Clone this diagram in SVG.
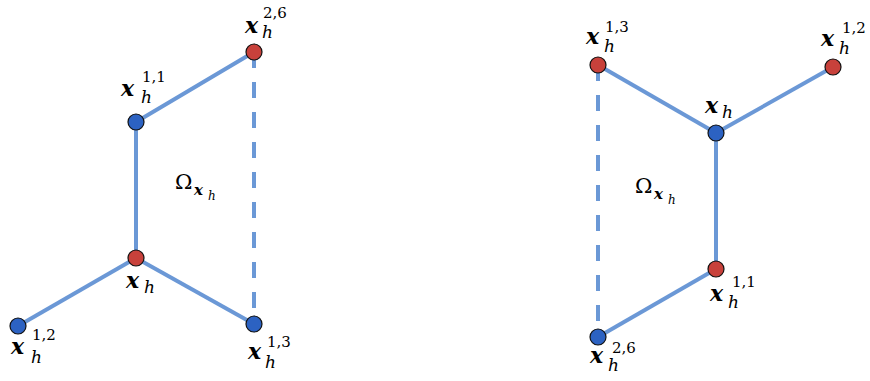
<svg xmlns="http://www.w3.org/2000/svg" width="870" height="381" viewBox="0 0 870 381">
<style>
.e{stroke:#6b98d6;stroke-width:4;fill:none}
.d{stroke-dasharray:16 14}
.r{fill:#c8413b;stroke:#111;stroke-width:1.2}
.b{fill:#2c62c2;stroke:#111;stroke-width:1.2}
.t{font-family:'DejaVu Serif',serif;fill:#000}
.x{font-weight:bold;font-style:italic;font-size:22px}
.h{font-style:italic;font-size:17px}
.s{font-size:15px}
.o{font-size:21px}
.ox{font-weight:bold;font-style:italic;font-size:15px}
.oh{font-style:italic;font-size:12px}
</style>
<g id="connectors">
<line class="e" x1="254" y1="52" x2="136" y2="122"/>
<line class="e" x1="136" y1="122" x2="136" y2="258"/>
<line class="e" x1="136" y1="258" x2="18" y2="326"/>
<line class="e" x1="136" y1="258" x2="254" y2="324"/>
<line class="e d" x1="254" y1="52" x2="254" y2="324"/>
<line class="e" x1="598" y1="65" x2="716" y2="133"/>
<line class="e" x1="833" y1="67" x2="716" y2="133"/>
<line class="e" x1="716" y1="133" x2="716" y2="269"/>
<line class="e" x1="716" y1="269" x2="598" y2="337"/>
<line class="e d" x1="598" y1="65" x2="598" y2="337"/>
</g>
<g id="left-x26"><circle class="r" cx="254" cy="52" r="8"/>
<text class="t"><tspan class="x" x="245" y="33">x</tspan><tspan class="h" x="262" y="38">h</tspan><tspan class="s" x="263" y="18">2,6</tspan></text></g>
<g id="left-x11"><circle class="b" cx="136" cy="122" r="8"/>
<text class="t"><tspan class="x" x="121" y="96">x</tspan><tspan class="h" x="141" y="103">h</tspan><tspan class="s" x="142" y="82">1,1</tspan></text></g>
<g id="left-xh"><circle class="r" cx="136" cy="258" r="8"/>
<text class="t"><tspan class="x" x="126" y="288">x</tspan><tspan class="h" x="144" y="293">h</tspan></text></g>
<g id="left-x12"><circle class="b" cx="18" cy="326" r="8"/>
<text class="t"><tspan class="x" x="11" y="354">x</tspan><tspan class="h" x="31" y="363">h</tspan><tspan class="s" x="32" y="340">1,2</tspan></text></g>
<g id="left-x13"><circle class="b" cx="254" cy="324" r="8"/>
<text class="t"><tspan class="x" x="248" y="359">x</tspan><tspan class="h" x="265" y="368">h</tspan><tspan class="s" x="267" y="347">1,3</tspan></text></g>
<g id="left-omega"><text class="t"><tspan class="o" x="175" y="189">Ω</tspan><tspan class="ox" x="194" y="195">x</tspan><tspan class="oh" x="208" y="200">h</tspan></text></g>
<g id="right-x13"><circle class="r" cx="598" cy="65" r="8"/>
<text class="t"><tspan class="x" x="586" y="44">x</tspan><tspan class="h" x="604" y="52">h</tspan><tspan class="s" x="605" y="32">1,3</tspan></text></g>
<g id="right-x12"><circle class="r" cx="833" cy="67" r="8"/>
<text class="t"><tspan class="x" x="821" y="46">x</tspan><tspan class="h" x="839" y="54">h</tspan><tspan class="s" x="842" y="33">1,2</tspan></text></g>
<g id="right-xh"><circle class="b" cx="716" cy="133" r="8"/>
<text class="t"><tspan class="x" x="705" y="113">x</tspan><tspan class="h" x="722" y="118">h</tspan></text></g>
<g id="right-x11"><circle class="r" cx="716" cy="269" r="8"/>
<text class="t"><tspan class="x" x="710" y="301">x</tspan><tspan class="h" x="728" y="308">h</tspan><tspan class="s" x="732" y="287">1,1</tspan></text></g>
<g id="right-x26"><circle class="b" cx="598" cy="337" r="8"/>
<text class="t"><tspan class="x" x="590" y="363">x</tspan><tspan class="h" x="608" y="371">h</tspan><tspan class="s" x="612" y="353">2,6</tspan></text></g>
<g id="right-omega"><text class="t"><tspan class="o" x="635" y="193">Ω</tspan><tspan class="ox" x="654" y="199">x</tspan><tspan class="oh" x="668" y="204">h</tspan></text></g>
</svg>
